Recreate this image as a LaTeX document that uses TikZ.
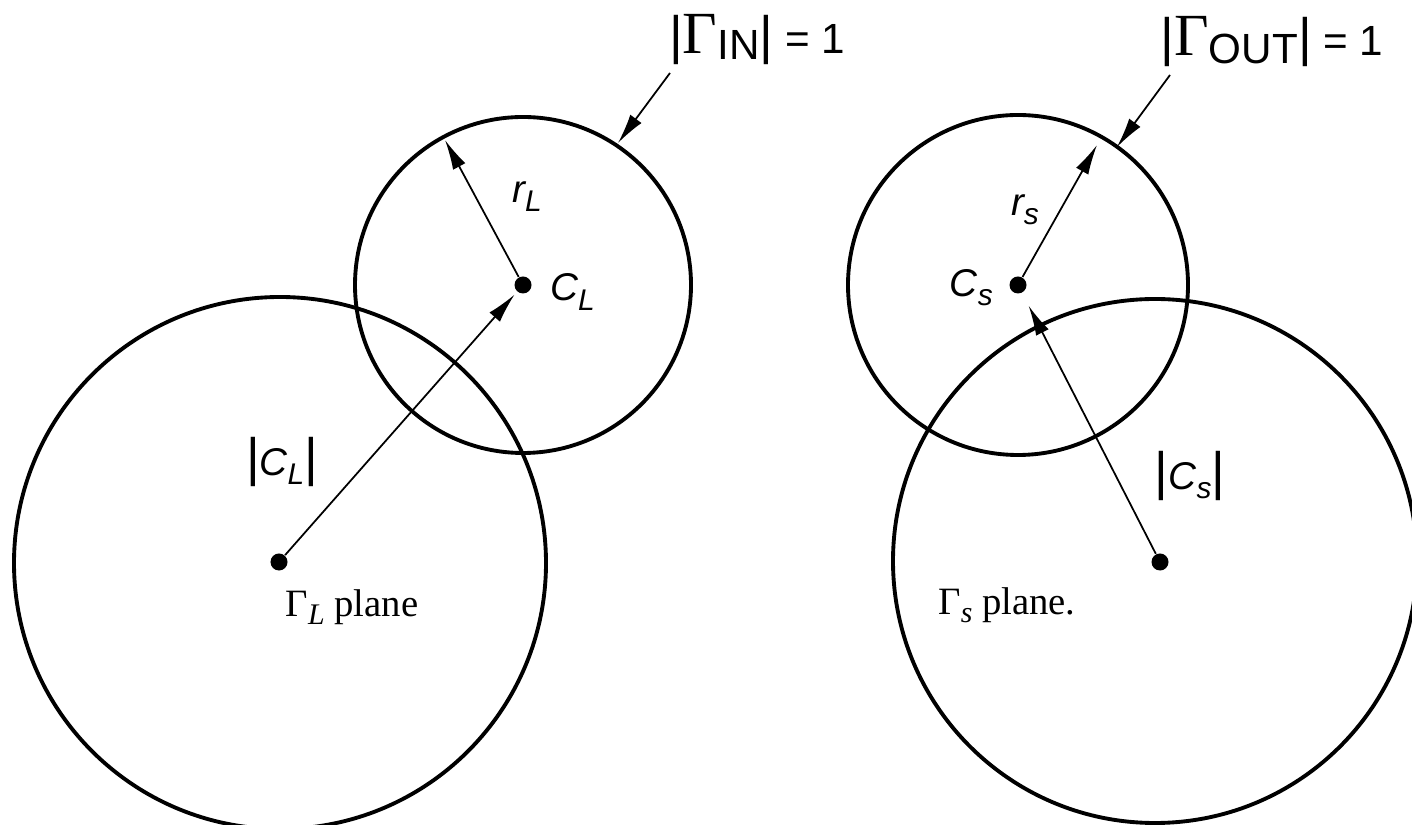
\documentclass[tikz,border=0pt]{standalone}
\usepackage{fontspec}
\setmainfont{Liberation Sans}
\newfontfamily\serifgreek{Liberation Serif}
\usetikzlibrary{arrows.meta}
\newcommand{\absbar}{{\fontsize{15}{15}\selectfont|}}
\newcommand{\lsub}[1]{\raisebox{-0.45ex}{\fontsize{8.5}{9}\selectfont #1}}
\newcommand{\biggam}{{\serifgreek\fontsize{17}{17}\selectfont Γ}}
\tikzset{
  circ/.style={line width=1.1pt},
  arr/.style={-{Latex[length=3mm,width=1.4mm]}, line width=0.5pt},
  dot/.style={circle, fill, inner sep=0pt, minimum size=1.7mm},
  lbl/.style={font=\fontsize{11}{13}\selectfont\itshape, inner sep=1pt},
  planelbl/.style={font=\serifgreek\fontsize{11}{13}\selectfont, inner sep=1pt}
}

\begin{document}
\begin{tikzpicture}[x=0.01cm, y=-0.01cm]
    \useasboundingbox (0,0) rectangle (1412,825);
    \clip (0,0) rectangle (1412,825);
    % circles
    \draw[circ] (280,563) circle (266);
    \draw[circ] (523,285) circle (168);
    \draw[circ] (1018,285) circle (170);
    \draw[circ] (1155,561) circle (262);
    % centres
    \node[dot] (OL) at (279,562) {};
    \node[dot] (CL) at (523,285) {};
    \node[dot] (OS) at (1160,562) {};
    \node[dot] (CS) at (1018,285) {};
    % radius ends and pointers
    \coordinate (rLend) at (445,140);
    \coordinate (rSend) at (1097,145);
    \coordinate (ginTail) at (670,73);
    \coordinate (ginTip) at (618,143);
    \coordinate (goutTail) at (1170,75);
    \coordinate (goutTip) at (1117,147);
    \draw[arr, shorten >=1pt] (OL) -- (CL);
    \draw[arr, shorten >=4pt] (OS) -- (CS);
    \draw[arr] (CL) -- (rLend);
    \draw[arr] (CS) -- (rSend);
    \draw[arr] (ginTail) -- (ginTip);
    \draw[arr] (goutTail) -- (goutTip);
    % labels
    \node[font=\fontsize{12}{14}\selectfont] (gin) at (757,40)
      {\absbar\biggam\raisebox{-0.25ex}{IN}\absbar\ = 1};
    \node[font=\fontsize{12}{14}\selectfont] (gout) at (1272,42)
      {\absbar\biggam\raisebox{-0.35ex}{OUT}\absbar\ = 1};
    \node[lbl] (rL) at (527,197) {r\lsub{L}};
    \node[lbl] (rS) at (1025,210) {r\lsub{s}};
    \node[lbl, anchor=west] (CLlbl) at (546,292) {C\lsub{L}};
    \node[lbl, anchor=east] (CSlbl) at (997,288) {C\lsub{s}};
    \node[lbl] (absCL) at (282,462) {\upshape\absbar\itshape C\lsub{L}\upshape\absbar};
    \node[lbl] (absCS) at (1190,476) {\upshape\absbar\itshape C\lsub{s}\upshape\absbar};
    \node[planelbl] (planeL) at (352,607) {Γ\lsub{\itshape L} plane};
    \node[planelbl] (planeS) at (1007,605) {Γ\lsub{\itshape s} plane.};
\end{tikzpicture}
\end{document}
